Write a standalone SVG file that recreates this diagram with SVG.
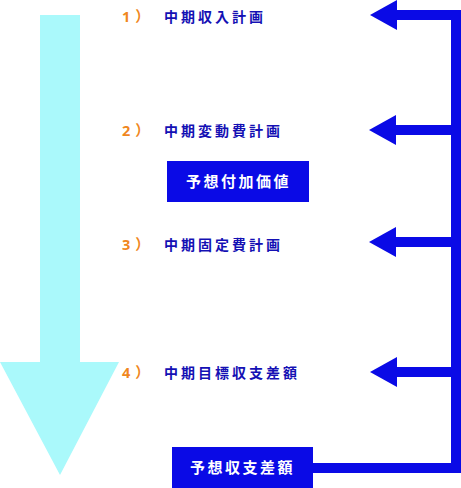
<svg xmlns="http://www.w3.org/2000/svg" width="461" height="488" viewBox="0 0 461 488">
<style>
.num{font-family:"Noto Sans","Noto Sans CJK JP",sans-serif;font-weight:bold;font-size:14.5px;fill:#f0871e;letter-spacing:5px}
.lbl{font-family:"Noto Sans CJK JP",sans-serif;font-weight:bold;font-size:14px;fill:#1410b4;letter-spacing:3px}
.box{fill:#0a0ae6}
.boxt{font-family:"Noto Sans CJK JP",sans-serif;font-weight:bold;font-size:15px;fill:#ffffff;letter-spacing:2.5px}
.conn{fill:#0a0ae6}
</style>
<defs>
<polygon id="head" points="0,0 27,-15 27,15"/>
</defs>
<g id="flow-arrow">
<polygon points="40,15 80,15 80,362 119,362 60,475 0,362 40,362" fill="#aaf9fb"/>
</g>
<g id="connectors" class="conn">
<rect x="451" y="10" width="10" height="463"/>
<rect x="395" y="10" width="66" height="10"/>
<use href="#head" x="370" y="15"/>
<rect x="393" y="125" width="68" height="10"/>
<use href="#head" x="369" y="130"/>
<rect x="393" y="237" width="68" height="10"/>
<use href="#head" x="369" y="242"/>
<rect x="395" y="367" width="66" height="10"/>
<use href="#head" x="370" y="372"/>
<rect x="313" y="463" width="148" height="10"/>
</g>
<g id="step1">
<text class="num" x="122" y="22">1）</text>
<text class="lbl" x="164" y="22">中期収入計画</text>
</g>
<g id="step2">
<text class="num" x="122" y="136">2）</text>
<text class="lbl" x="164" y="136">中期変動費計画</text>
</g>
<g id="added-value">
<rect class="box" x="167" y="161" width="142" height="41"/>
<text class="boxt" x="186" y="187">予想付加価値</text>
</g>
<g id="step3">
<text class="num" x="122" y="250">3）</text>
<text class="lbl" x="164" y="250">中期固定費計画</text>
</g>
<g id="step4">
<text class="num" x="122" y="378">4）</text>
<text class="lbl" x="164" y="378">中期目標収支差額</text>
</g>
<g id="balance">
<rect class="box" x="172" y="447" width="141" height="41"/>
<text class="boxt" x="190" y="473">予想収支差額</text>
</g>
</svg>
